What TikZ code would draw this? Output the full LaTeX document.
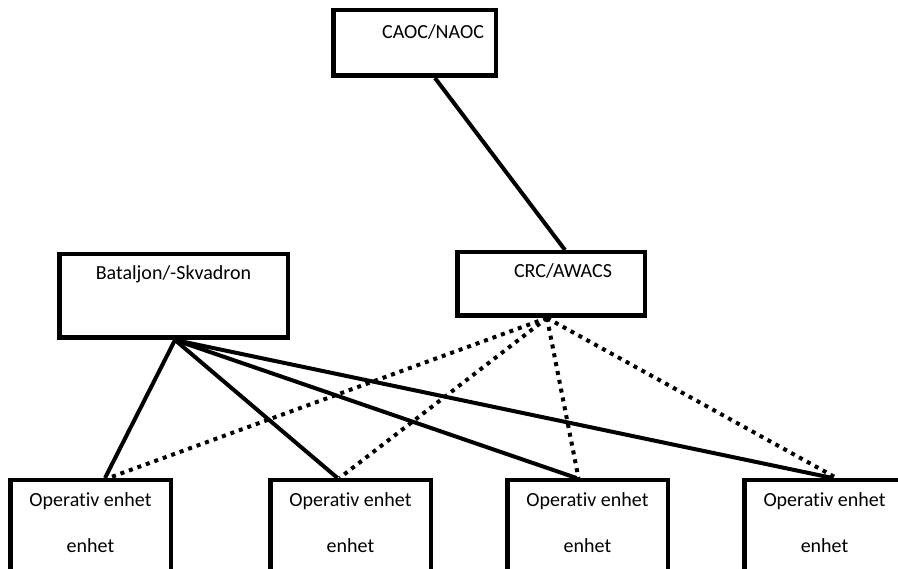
\documentclass[tikz,border=0pt]{standalone}
\usepackage{fontspec}
\setmainfont[Ligatures=NoCommon]{Carlito}
\usetikzlibrary{calc}
\tikzset{
  box/.style={draw=black, line width=4.5pt, inner sep=0pt, fill=white},
  lbl/.style={font=\fontsize{20}{24}\selectfont, anchor=base, inner sep=0pt},
  solidlink/.style={line width=4pt, black},
  dotlink/.style={line width=4pt, black, dash pattern=on 4pt off 5pt},
}
\begin{document}
\begin{tikzpicture}[x=1pt, y=-1pt]
\clip (0,0) rectangle (898,569);
\useasboundingbox (0,0) rectangle (898,569);
\fill[white] (0,0) rectangle (898,569);

% boxes
\node[box, minimum width=162.5pt, minimum height=65.5pt,
  label={[lbl, xshift=18.5pt, yshift=-31pt]north:CAOC/NAOC}] (caoc) at (414.5,43) {};
\node[box, minimum width=228.5pt, minimum height=83.5pt,
  label={[lbl, yshift=-28pt]north:Bataljon/-Skvadron}] (bat) at (173.5,296) {};
\node[box, minimum width=187.5pt, minimum height=63.5pt,
  label={[lbl, xshift=12pt, yshift=-28pt]north:CRC/AWACS}] (crc) at (551,284) {};

\foreach \n/\x in {b1/90.5, b2/350.5, b3/587.5, b4/824.5}{
  \node[box, minimum width=160.5pt, minimum height=137.5pt,
    label={[lbl, yshift=-29pt]north:Operativ enhet},
    label={[lbl, yshift=-75pt]north:enhet}] (\n) at (\x,549) {};
}

% solid connectors
\draw[solidlink] ([xshift=20.5pt]caoc.south) -- ([xshift=14pt]crc.north);
\draw[solidlink] ([xshift=1.5pt]bat.south) -- ([xshift=14.5pt]b1.north);
\draw[solidlink] ([xshift=1.5pt]bat.south) -- ([xshift=-13pt]b2.north);
\draw[solidlink] ([xshift=1.5pt]bat.south) -- ([xshift=-11pt]b3.north);
\draw[solidlink] ([xshift=1.5pt]bat.south) -- ([xshift=8pt]b4.north);

% dotted connectors
\draw[dotlink] ([xshift=-4pt]crc.south) -- ([xshift=18pt]b1.north);
\draw[dotlink] ([xshift=-4pt]crc.south) -- ([xshift=-11pt]b2.north);
\draw[dotlink] ([xshift=-4pt]crc.south) -- ([xshift=-9pt]b3.north);
\draw[dotlink] ([xshift=-4pt]crc.south) -- ([xshift=12pt]b4.north);
\end{tikzpicture}
\end{document}
